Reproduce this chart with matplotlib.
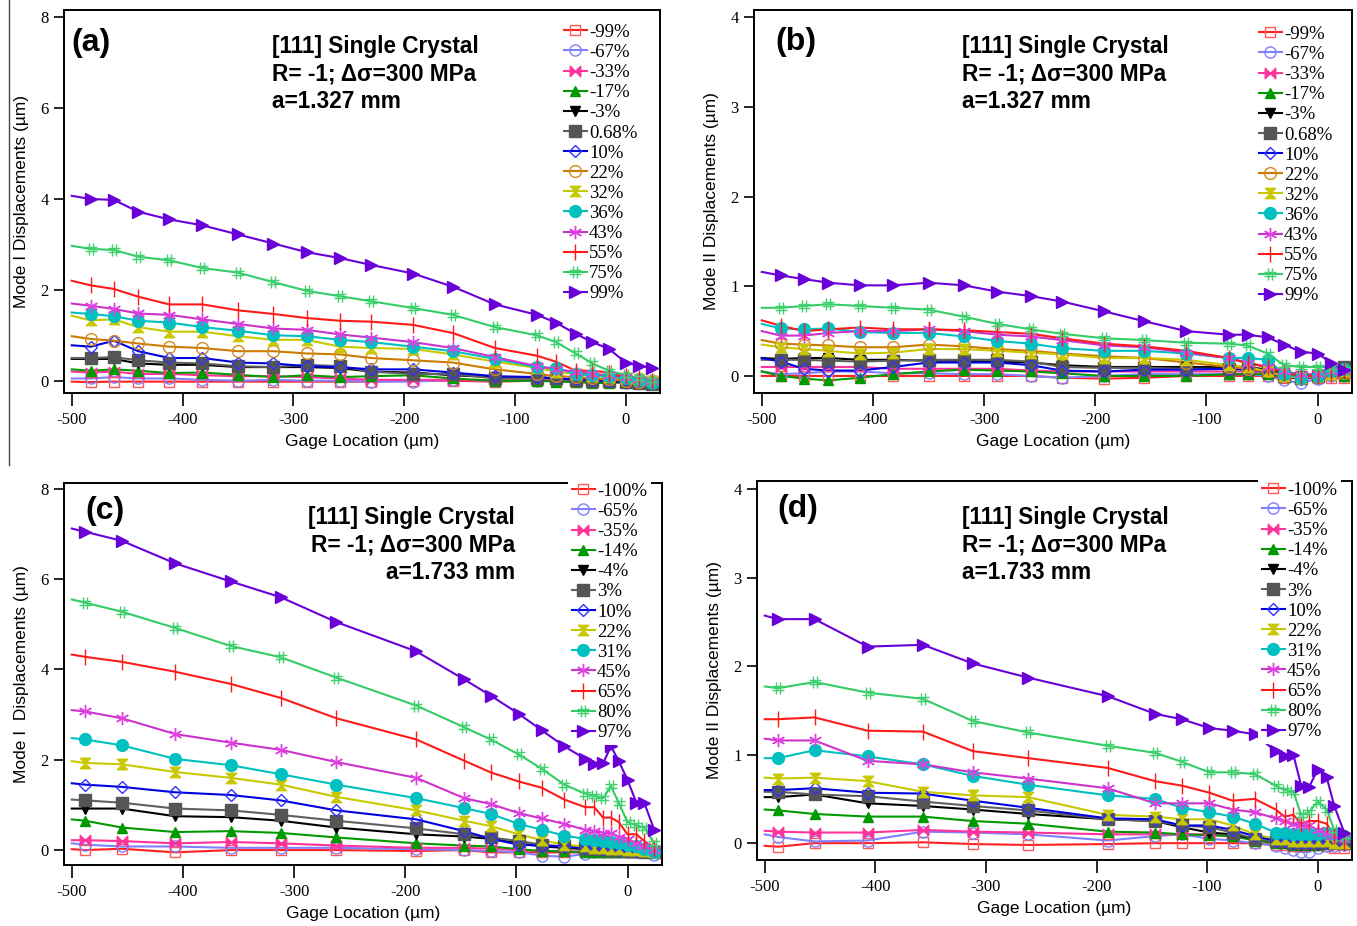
import matplotlib
matplotlib.use('Agg')
import matplotlib.pyplot as plt
from matplotlib.path import Path
from matplotlib.lines import Line2D

# gage locations (um); a/b share one grid, c/d another
x_ab = [-500, -483, -462, -440, -412, -382, -350, -318, -288, -258, -230,
        -192, -156, -118, -80, -63, -45, -30, -15, 0, 12, 24]
x_cd = [-500, -488, -455, -407, -357, -312, -262, -190, -147, -123, -98,
        -77, -57, -38, -30, -22, -15, -8, 0, 8, 15, 24]

labels_ab = ['-99%', '-67%', '-33%', '-17%', '-3%', '0.68%', '10%', '22%',
             '32%', '36%', '43%', '55%', '75%', '99%']
labels_cd = ['-100%', '-65%', '-35%', '-14%', '-4%', '3%', '10%', '22%',
             '31%', '45%', '65%', '80%', '97%']

# (a) Mode I, a=1.327 mm
a_m99 = [-0.02, -0.03, -0.02, -0.02, -0.02, -0.02, -0.02, -0.02, -0.02, -0.02, -0.02, 0.0, 0.0, -0.02, 0.0, 0.0, -0.02, -0.02, -0.03, -0.03, -0.02, 0.0]
a_m67 = [0.05, 0.05, 0.08, 0.05, 0.05, 0.02, 0.0, 0.02, 0.0, 0.0, -0.02, -0.02, 0.02, 0.0, 0.0, 0.0, 0.0, -0.02, -0.03, -0.05, -0.05, -0.05]
a_m33 = [0.2, 0.18, 0.2, 0.15, 0.15, 0.12, 0.1, 0.1, 0.08, 0.05, 0.02, 0.02, 0.02, 0.0, 0.02, 0.02, 0.02, 0.0, -0.02, 0.0, -0.02, 0.0]
a_m17 = [0.25, 0.22, 0.25, 0.22, 0.17, 0.18, 0.13, 0.08, 0.12, 0.08, 0.1, 0.12, 0.05, 0.0, 0.0, -0.02, -0.03, -0.05, -0.05, -0.03, -0.05, -0.05]
a_m3 = [0.48, 0.48, 0.48, 0.38, 0.35, 0.35, 0.3, 0.3, 0.3, 0.28, 0.2, 0.18, 0.12, 0.08, 0.08, 0.05, 0.02, 0.0, -0.02, -0.03, -0.05, -0.08]
a_p068 = [0.5, 0.5, 0.52, 0.45, 0.4, 0.38, 0.32, 0.3, 0.35, 0.32, 0.2, 0.15, 0.15, 0.05, 0.05, 0.05, 0.02, 0.0, 0.0, -0.02, -0.05, -0.08]
a_p10 = [0.78, 0.75, 0.88, 0.65, 0.5, 0.5, 0.4, 0.38, 0.32, 0.3, 0.25, 0.25, 0.18, 0.1, 0.08, 0.05, 0.03, 0.02, 0.0, 0.0, -0.02, -0.05]
a_p22 = [0.98, 0.92, 0.88, 0.82, 0.75, 0.72, 0.65, 0.65, 0.6, 0.58, 0.5, 0.45, 0.4, 0.25, 0.15, 0.1, 0.08, 0.05, 0.03, 0.0, -0.02, -0.03]
a_p32 = [1.43, 1.33, 1.35, 1.18, 1.08, 1.08, 0.98, 0.9, 0.9, 0.75, 0.72, 0.7, 0.58, 0.42, 0.28, 0.2, 0.15, 0.1, 0.08, 0.05, 0.03, 0.0]
a_p36 = [1.5, 1.47, 1.42, 1.32, 1.28, 1.18, 1.1, 1.0, 0.98, 0.9, 0.85, 0.75, 0.65, 0.48, 0.3, 0.28, 0.15, 0.12, 0.1, 0.05, 0.02, -0.05]
a_p43 = [1.7, 1.65, 1.58, 1.48, 1.45, 1.35, 1.25, 1.15, 1.12, 1.02, 0.95, 0.85, 0.72, 0.52, 0.32, 0.25, 0.2, 0.15, 0.12, 0.08, 0.03, 0.0]
a_p55 = [2.2, 2.1, 2.02, 1.85, 1.68, 1.68, 1.55, 1.47, 1.38, 1.32, 1.3, 1.23, 1.05, 0.72, 0.55, 0.42, 0.22, 0.22, 0.18, 0.1, 0.05, 0.0]
a_p75 = [2.97, 2.9, 2.88, 2.73, 2.65, 2.48, 2.38, 2.17, 1.98, 1.86, 1.75, 1.6, 1.45, 1.18, 1.0, 0.85, 0.6, 0.38, 0.22, 0.12, 0.05, 0.02]
a_p99 = [4.07, 4.0, 3.98, 3.72, 3.55, 3.42, 3.22, 3.02, 2.83, 2.7, 2.55, 2.36, 2.07, 1.68, 1.45, 1.28, 1.03, 0.85, 0.7, 0.4, 0.33, 0.28]

# (b) Mode II, a=1.327 mm
b_m99 = [0.0, 0.0, 0.0, 0.0, 0.0, 0.0, 0.0, 0.0, 0.0, 0.0, -0.02, -0.03, -0.02, 0.0, 0.0, 0.0, 0.0, -0.02, -0.03, -0.02, -0.02, -0.02]
b_m67 = [0.05, 0.02, 0.03, 0.05, 0.05, 0.03, 0.03, 0.02, 0.02, 0.0, -0.02, 0.0, 0.02, 0.02, 0.02, 0.02, 0.0, -0.05, -0.08, -0.03, 0.0, 0.0]
b_m33 = [0.1, 0.1, 0.1, 0.1, 0.1, 0.08, 0.08, 0.08, 0.08, 0.06, 0.05, 0.05, 0.05, 0.05, 0.05, 0.05, 0.03, 0.0, -0.02, 0.0, 0.02, 0.02]
b_m17 = [0.05, 0.0, -0.03, -0.05, -0.02, 0.02, 0.05, 0.07, 0.06, 0.05, 0.03, 0.0, 0.0, 0.0, 0.02, 0.02, 0.02, 0.0, -0.02, 0.0, 0.02, 0.0]
b_m3 = [0.2, 0.19, 0.2, 0.2, 0.18, 0.18, 0.17, 0.17, 0.16, 0.15, 0.12, 0.1, 0.1, 0.1, 0.1, 0.1, 0.07, 0.02, 0.0, 0.0, 0.05, 0.1]
b_p068 = [0.18, 0.18, 0.18, 0.17, 0.16, 0.17, 0.18, 0.18, 0.18, 0.16, 0.1, 0.09, 0.09, 0.08, 0.08, 0.08, 0.06, 0.0, -0.02, 0.0, 0.05, 0.1]
b_p10 = [0.2, 0.16, 0.08, 0.06, 0.06, 0.1, 0.15, 0.15, 0.15, 0.12, 0.06, 0.05, 0.07, 0.07, 0.08, 0.07, 0.05, 0.0, -0.03, 0.0, 0.03, 0.05]
b_p22 = [0.4, 0.36, 0.35, 0.34, 0.32, 0.32, 0.35, 0.33, 0.3, 0.28, 0.25, 0.22, 0.2, 0.15, 0.1, 0.08, 0.05, 0.0, -0.02, 0.0, 0.02, 0.03]
b_p32 = [0.35, 0.32, 0.3, 0.28, 0.25, 0.26, 0.3, 0.3, 0.28, 0.26, 0.24, 0.2, 0.2, 0.18, 0.12, 0.1, 0.05, 0.0, -0.02, 0.0, 0.02, 0.05]
b_p36 = [0.58, 0.53, 0.52, 0.53, 0.49, 0.48, 0.48, 0.44, 0.39, 0.36, 0.31, 0.28, 0.28, 0.25, 0.2, 0.2, 0.18, 0.02, -0.02, 0.0, 0.05, 0.08]
b_p43 = [0.5, 0.45, 0.45, 0.48, 0.5, 0.5, 0.52, 0.5, 0.46, 0.44, 0.4, 0.34, 0.32, 0.26, 0.2, 0.15, 0.1, 0.05, 0.02, 0.02, 0.05, 0.07]
b_p55 = [0.62, 0.56, 0.5, 0.52, 0.54, 0.52, 0.52, 0.51, 0.49, 0.47, 0.42, 0.36, 0.33, 0.28, 0.2, 0.14, 0.1, 0.03, 0.0, 0.0, 0.02, 0.05]
b_p75 = [0.76, 0.76, 0.78, 0.8, 0.78, 0.76, 0.74, 0.66, 0.58, 0.52, 0.47, 0.42, 0.4, 0.37, 0.36, 0.34, 0.25, 0.12, 0.1, 0.1, 0.1, 0.08]
b_p99 = [1.16, 1.12, 1.08, 1.04, 1.01, 1.01, 1.04, 1.01, 0.94, 0.89, 0.83, 0.72, 0.61, 0.5, 0.46, 0.46, 0.43, 0.35, 0.27, 0.25, 0.15, 0.07]

# (c) Mode I, a=1.733 mm
c_m100 = [0.02, 0.0, 0.03, -0.05, 0.0, 0.0, 0.0, -0.02, 0.0, -0.05, -0.05, -0.05, -0.05, -0.05, -0.05, -0.05, -0.05, -0.05, -0.05, -0.05, -0.05, -0.05]
c_m65 = [0.15, 0.12, 0.08, 0.08, 0.05, 0.05, 0.05, 0.02, 0.0, -0.02, -0.05, -0.12, -0.15, -0.08, -0.05, -0.05, -0.05, -0.05, -0.05, -0.05, -0.05, -0.1]
c_m35 = [0.22, 0.22, 0.2, 0.15, 0.18, 0.15, 0.1, 0.05, 0.05, 0.03, 0.0, -0.02, -0.03, -0.03, -0.03, -0.02, -0.02, -0.02, -0.03, -0.03, -0.05, -0.05]
c_m14 = [0.68, 0.65, 0.5, 0.4, 0.42, 0.38, 0.28, 0.15, 0.1, 0.08, 0.02, -0.02, -0.03, -0.05, -0.05, -0.05, -0.05, -0.05, -0.05, -0.05, -0.05, -0.05]
c_m4 = [0.92, 0.92, 0.92, 0.75, 0.73, 0.65, 0.5, 0.35, 0.3, 0.25, 0.15, 0.08, 0.05, 0.02, 0.0, 0.0, -0.02, -0.02, -0.03, -0.03, -0.05, -0.05]
c_p3 = [1.12, 1.1, 1.05, 0.92, 0.88, 0.78, 0.65, 0.48, 0.35, 0.28, 0.2, 0.12, 0.08, 0.05, 0.03, 0.02, 0.0, 0.0, -0.02, -0.03, -0.05, -0.05]
c_p10 = [1.48, 1.45, 1.4, 1.28, 1.22, 1.1, 0.88, 0.68, 0.42, 0.25, 0.12, 0.1, 0.08, 0.05, 0.05, 0.03, 0.02, 0.0, 0.0, -0.02, -0.03, -0.05]
c_p22 = [1.97, 1.93, 1.9, 1.73, 1.6, 1.45, 1.18, 0.88, 0.65, 0.53, 0.35, 0.22, 0.12, 0.08, 0.05, 0.05, 0.02, 0.02, 0.0, 0.0, -0.02, -0.05]
c_p31 = [2.48, 2.45, 2.32, 2.02, 1.88, 1.68, 1.45, 1.15, 0.93, 0.8, 0.58, 0.45, 0.32, 0.25, 0.22, 0.2, 0.18, 0.15, 0.12, 0.08, 0.03, -0.05]
c_p45 = [3.1, 3.07, 2.92, 2.57, 2.38, 2.22, 1.95, 1.6, 1.15, 1.02, 0.82, 0.7, 0.58, 0.45, 0.42, 0.38, 0.38, 0.3, 0.25, 0.15, 0.08, 0.0]
c_p65 = [4.33, 4.28, 4.17, 3.95, 3.68, 3.37, 2.92, 2.45, 1.98, 1.72, 1.52, 1.38, 1.12, 0.95, 0.95, 0.72, 0.72, 0.62, 0.35, 0.35, 0.2, 0.05]
c_p80 = [5.55, 5.48, 5.28, 4.92, 4.52, 4.27, 3.82, 3.2, 2.72, 2.45, 2.12, 1.8, 1.45, 1.25, 1.2, 1.15, 1.42, 1.05, 0.62, 0.55, 0.5, 0.15]
c_p97 = [7.12, 7.05, 6.85, 6.35, 5.95, 5.6, 5.05, 4.4, 3.78, 3.42, 3.02, 2.65, 2.3, 2.02, 1.9, 1.92, 2.3, 1.98, 1.55, 1.05, 1.05, 0.45]

# (d) Mode II, a=1.733 mm
d_m100 = [-0.03, -0.04, 0.0, 0.0, 0.01, -0.01, -0.02, -0.01, 0.0, 0.0, 0.0, 0.0, 0.0, -0.02, -0.02, -0.03, -0.03, -0.02, -0.02, -0.03, -0.05, -0.05]
d_m65 = [0.1, 0.07, 0.02, 0.03, 0.13, 0.12, 0.1, 0.03, 0.08, 0.1, 0.05, 0.03, 0.0, -0.03, -0.05, -0.08, -0.1, -0.1, -0.05, -0.03, -0.03, -0.02]
d_m35 = [0.14, 0.13, 0.12, 0.12, 0.15, 0.13, 0.12, 0.1, 0.1, 0.1, 0.1, 0.07, 0.05, 0.0, -0.02, -0.03, -0.03, -0.02, -0.02, -0.02, -0.02, 0.0]
d_m14 = [0.38, 0.37, 0.33, 0.3, 0.3, 0.25, 0.22, 0.13, 0.12, 0.1, 0.09, 0.08, 0.03, 0.0, 0.0, -0.02, -0.02, -0.02, -0.02, 0.0, 0.0, 0.0]
d_m4 = [0.52, 0.52, 0.55, 0.45, 0.42, 0.38, 0.33, 0.27, 0.25, 0.18, 0.12, 0.1, 0.05, 0.02, 0.0, 0.0, -0.02, -0.02, -0.02, 0.0, 0.0, 0.0]
d_p3 = [0.58, 0.58, 0.55, 0.53, 0.47, 0.42, 0.37, 0.27, 0.25, 0.2, 0.18, 0.12, 0.05, 0.02, 0.02, 0.0, 0.0, 0.0, 0.0, 0.0, 0.0, 0.0]
d_p10 = [0.6, 0.6, 0.62, 0.57, 0.56, 0.48, 0.4, 0.28, 0.27, 0.2, 0.2, 0.15, 0.08, 0.03, 0.02, 0.0, 0.0, 0.0, 0.0, 0.0, 0.0, 0.0]
d_p22 = [0.74, 0.73, 0.74, 0.7, 0.58, 0.54, 0.52, 0.32, 0.3, 0.27, 0.27, 0.2, 0.1, 0.05, 0.05, 0.03, 0.02, 0.02, 0.02, 0.02, 0.0, 0.0]
d_p31 = [0.96, 0.96, 1.05, 0.98, 0.89, 0.76, 0.66, 0.54, 0.5, 0.4, 0.35, 0.3, 0.22, 0.12, 0.12, 0.1, 0.1, 0.1, 0.1, 0.12, 0.1, 0.08]
d_p45 = [1.18, 1.16, 1.16, 0.93, 0.89, 0.8, 0.73, 0.62, 0.45, 0.45, 0.45, 0.38, 0.35, 0.28, 0.25, 0.22, 0.2, 0.2, 0.15, 0.12, 0.08, 0.05]
d_p65 = [1.4, 1.4, 1.42, 1.27, 1.26, 1.04, 0.96, 0.85, 0.7, 0.65, 0.57, 0.48, 0.5, 0.38, 0.3, 0.32, 0.22, 0.25, 0.25, 0.22, 0.08, 0.0]
d_p80 = [1.77, 1.75, 1.82, 1.7, 1.63, 1.38, 1.25, 1.1, 1.02, 0.92, 0.8, 0.8, 0.78, 0.65, 0.6, 0.58, 0.32, 0.35, 0.47, 0.38, 0.15, 0.08]
d_p97 = [2.57, 2.53, 2.53, 2.22, 2.24, 2.03, 1.87, 1.66, 1.46, 1.4, 1.3, 1.27, 1.23, 1.04, 0.98, 1.0, 0.65, 0.63, 0.83, 0.75, 0.42, 0.12]

ys_a = [a_m99, a_m67, a_m33, a_m17, a_m3, a_p068, a_p10, a_p22, a_p32, a_p36, a_p43, a_p55, a_p75, a_p99]
ys_b = [b_m99, b_m67, b_m33, b_m17, b_m3, b_p068, b_p10, b_p22, b_p32, b_p36, b_p43, b_p55, b_p75, b_p99]
ys_c = [c_m100, c_m65, c_m35, c_m14, c_m4, c_p3, c_p10, c_p22, c_p31, c_p45, c_p65, c_p80, c_p97]
ys_d = [d_m100, d_m65, d_m35, d_m14, d_m4, d_p3, d_p10, d_p22, d_p31, d_p45, d_p65, d_p80, d_p97]

# Igor-like custom markers
bowtie = Path([(-1, -1), (0, 0), (-1, 1), (-1, -1), (1, -1), (0, 0), (1, 1), (1, -1)],
              [Path.MOVETO, Path.LINETO, Path.LINETO, Path.CLOSEPOLY] * 2)
hourglass = Path([(-1, 1), (0, 0), (1, 1), (-1, 1), (-1, -1), (0, 0), (1, -1), (-1, -1)],
                 [Path.MOVETO, Path.LINETO, Path.LINETO, Path.CLOSEPOLY] * 2)
hashmark = Path([(-0.35, -1), (-0.35, 1), (0.35, -1), (0.35, 1),
                 (-1, -0.35), (1, -0.35), (-1, 0.35), (1, 0.35)],
                [Path.MOVETO, Path.LINETO] * 4)

styles = {
    'sq':   dict(color='#ff2020', marker='s', mfc='none', mec='#ff5a5a', ms=7.5),
    'ci':   dict(color='#8080ff', marker='o', mfc='none', mec='#8080ff', ms=8),
    'bow':  dict(color='#ff3399', marker=bowtie, mfc='#ff3399', mec='#ff3399', ms=7.5),
    'tup':  dict(color='#009a00', marker='^', mfc='#009a00', mec='#009a00', ms=7.5),
    'tdn':  dict(color='#000000', marker='v', mfc='#000000', mec='#000000', ms=7.5),
    'fsq':  dict(color='#606060', marker='s', mfc='#555555', mec='#555555', ms=8.5),
    'dia':  dict(color='#0000e0', marker='D', mfc='none', mec='#3030ff', ms=6.5),
    'cor':  dict(color='#cc7a00', marker='o', mfc='none', mec='#d08a20', ms=8.5),
    'hg':   dict(color='#c8c800', marker=hourglass, mfc='#c8c800', mec='#c8c800', ms=7.5),
    'fci':  dict(color='#00c0c0', marker='o', mfc='#00c0c0', mec='#00c0c0', ms=8.5),
    'ast':  dict(color='#cc33cc', marker=(6, 2, 0), mfc='none', mec='#e040e0', ms=9.5),
    'bar':  dict(color='#ff1a1a', marker='|', mfc='none', mec='#ff1a1a', ms=11),
    'hash': dict(color='#33cc66', marker=hashmark, mfc='none', mec='#40d070', ms=8.5),
    'tr':   dict(color='#6a00d8', marker='>', mfc='#6a00d8', mec='#6a00d8', ms=8.5),
}
order_ab = ['sq', 'ci', 'bow', 'tup', 'tdn', 'fsq', 'dia', 'cor', 'hg', 'fci', 'ast', 'bar', 'hash', 'tr']
order_cd = ['sq', 'ci', 'bow', 'tup', 'tdn', 'fsq', 'dia', 'hg', 'fci', 'ast', 'bar', 'hash', 'tr']

SANS = 'Liberation Sans'
SERIF = 'Liberation Serif'

W, H = 1357, 926
fig = plt.figure(figsize=(W / 100, H / 100), dpi=100)


def px_rect(left, top, right, bottom):
    return [left / W, 1 - bottom / H, (right - left) / W, (bottom - top) / H]


def draw_panel(rect, x, ys, labels, order, ylim, yticks, ylabel, tag, tag_xy,
               note, note_xy, note_ha, leg_xy, leg_frame):
    ax = fig.add_axes(rect)
    handles = []
    for y, lab, key in zip(ys, labels, order):
        st = styles[key]
        ax.plot(x, y, color=st['color'], lw=1.5, zorder=2)
        ax.plot(x[1:], y[1:], ls='none', marker=st['marker'], ms=st['ms'],
                mfc=st['mfc'], mec=st['mec'], mew=1.0, zorder=3)
        handles.append(Line2D([], [], color=st['color'], lw=1.5, marker=st['marker'],
                              ms=st['ms'], mfc=st['mfc'], mec=st['mec'], mew=1.0,
                              label=lab))
    ax.set_xlim(-507, 31)
    ax.set_ylim(*ylim)
    ax.set_xticks([-500, -400, -300, -200, -100, 0])
    ax.set_xticklabels(['-500', '-400', '-300', '-200', '-100', '0'])
    ax.set_yticks(yticks)
    ax.set_yticklabels([str(t) for t in yticks])
    for s in ax.spines.values():
        s.set_linewidth(1.4)
    ax.tick_params(direction='out', width=1.2, labelsize=12)
    ax.tick_params(axis='x', length=9, pad=5)
    ax.tick_params(axis='y', length=7, pad=4)
    for t in ax.get_xticklabels() + ax.get_yticklabels():
        t.set_fontfamily(SERIF)
    ax.set_xlabel('Gage Location (µm)', fontfamily=SANS, fontsize=12.5, labelpad=4)
    ax.set_ylabel(ylabel, fontfamily=SANS, fontsize=12.5, labelpad=8)

    ax.text(tag_xy[0], tag_xy[1], tag, transform=ax.transAxes,
            ha='left', va='top', fontfamily=SANS, fontweight='bold', fontsize=23)
    ax.text(note_xy[0], note_xy[1], note, transform=ax.transAxes, ha=note_ha, va='top',
            multialignment=note_ha, fontfamily=SANS, fontweight='bold',
            fontsize=16.3, linespacing=1.26)

    leg = ax.legend(handles=handles, loc='upper left',
                    bbox_to_anchor=(leg_xy[0] / W, 1 - leg_xy[1] / H),
                    bbox_transform=fig.transFigure, frameon=leg_frame,
                    prop={'family': SERIF, 'size': 13.5}, handlelength=1.25,
                    handletextpad=0.1, labelspacing=0.16, borderpad=0.2,
                    borderaxespad=0, fancybox=False)
    if leg_frame:
        leg.get_frame().set_facecolor('white')
        leg.get_frame().set_edgecolor('none')
        leg.get_frame().set_alpha(1)
    leg.set_zorder(10)
    return ax


note_ab = '[111] Single Crystal\nR= -1; Δσ=300 MPa\na=1.327 mm'
note_cd = '[111] Single Crystal\nR= -1; Δσ=300 MPa\na=1.733 mm'

draw_panel(px_rect(64, 10, 660, 393), x_ab, ys_a, labels_ab, order_ab,
           (-0.27, 8.16), [0, 2, 4, 6, 8], 'Mode I Displacements (µm)',
           '(a)', (0.013, 0.952), note_ab, (0.349, 0.935), 'left', (560, 20), False)
draw_panel(px_rect(754, 10, 1352, 393), x_ab, ys_b, labels_ab, order_ab,
           (-0.19, 4.08), [0, 1, 2, 3, 4], 'Mode II Displacements (µm)',
           '(b)', (0.035, 0.955), note_ab, (0.348, 0.935), 'left', (1255, 22), False)
draw_panel(px_rect(64, 483, 662, 865), x_cd, ys_c, labels_cd, order_cd,
           (-0.33, 8.13), [0, 2, 4, 6, 8], 'Mode I  Displacements (µm)',
           '(c)', (0.035, 0.965), note_cd, (0.754, 0.94), 'right', (568, 479), True)
draw_panel(px_rect(757, 481, 1352, 860), x_cd, ys_d, labels_cd, order_cd,
           (-0.19, 4.09), [0, 1, 2, 3, 4], 'Mode II Displacements (µm)',
           '(d)', (0.035, 0.965), note_cd, (0.345, 0.935), 'left', (1258, 478), True)

# thin crop line on the left edge of the top-left panel
fig.add_artist(Line2D([9 / W, 9 / W], [1.0, 1 - 465 / H], color='#444444', lw=1.0))

fig.savefig('out.png', dpi=100)
